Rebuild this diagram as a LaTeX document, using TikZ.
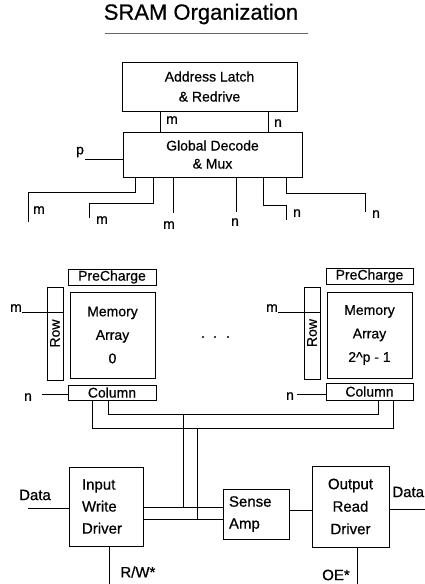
\documentclass[tikz,border=0pt]{standalone}
\usepackage{fontspec}
\setmainfont{Liberation Sans}[FakeBold=0.6]
\begin{document}
\begin{tikzpicture}[x=1pt, y=-1pt, line width=0.8pt,
    blk/.style={draw, line width=1pt, inner sep=0pt, align=center,
                font=\fontsize{14}{20}\selectfont},
    drv/.style={draw, line width=1pt, inner sep=0pt,
                font=\fontsize{15}{22}\selectfont},
    lbl/.style={inner sep=0pt, font=\fontsize{14}{16}\selectfont},
    dlbl/.style={inner sep=0pt, font=\fontsize{15}{17}\selectfont}]

  \useasboundingbox (0,0) rectangle (425,584);

  % --- Titel ---
  \node[inner sep=0pt, font=\fontsize{22}{26}\selectfont] (title) at (201,14) {SRAM Organization};
  \draw[black!60, line width=0.5pt] (105,33) -- (308,33);

  % --- Adresse + globale Dekodierung ---
  \node[blk, minimum width=175, minimum height=49] (addr) at (209.5,86.5)
      {Address Latch\\\& Redrive};
  \node[blk, minimum width=179, minimum height=45, font=\fontsize{14}{18}\selectfont] (gdec) at (212.5,154.5)
      {Global Decode\\\& Mux};
  \draw (addr.south -| 160,0) -- (gdec.north -| 160,0);
  \draw (addr.south -| 268,0) -- (gdec.north -| 268,0);
  \node[lbl] (am) at (172,120) {m};
  \node[lbl] (an) at (278,123) {n};

  \coordinate (pin) at (85,159);
  \node[lbl] (p) at (80,152) {p};
  \draw (pin) -- (pin -| gdec.west);

  % --- Ausgaenge der Dekodierung ---
  \draw (gdec.south -| 135,0) -- (135,192) -| (28,222);
  \draw (gdec.south -| 153,0) -- (153,203) -| (89,218);
  \draw (gdec.south -| 173,0) -- (173,213);
  \draw (gdec.south -| 236,0) -- (236,212);
  \draw (gdec.south -| 263,0) -- (263,205) -| (286,220);
  \draw (gdec.south -| 286,0) -- (286,193) -| (365,212);
  \node[lbl] (om1) at (39,210) {m};
  \node[lbl] (om2) at (102,220) {m};
  \node[lbl] (om3) at (169,225) {m};
  \node[lbl] (on1) at (235,222) {n};
  \node[lbl] (on2) at (297,213) {n};
  \node[lbl] (on3) at (376,214) {n};

  % --- Speicherfeld 0 ---
  \node[blk, minimum width=88, minimum height=16] (pc0) at (112,277) {PreCharge};
  \node[blk, rotate=90, minimum width=93, minimum height=16] (row0) at (55,333.5) {Row};
  \node[blk, minimum width=85, minimum height=86, font=\fontsize{14}{23.5}\selectfont] (mem0) at (112.5,335)
      {Memory\\Array\\0};
  \node[blk, minimum width=88, minimum height=15] (col0) at (112,392.5) {Column};
  \coordinate (m0) at (22,312);
  \coordinate (n0) at (42,394);
  \draw (m0) -- (m0 -| row0.south);
  \draw (n0) -- (n0 -| col0.west);
  \node[lbl] (m0l) at (16,308) {m};
  \node[lbl] (n0l) at (28,397) {n};

  % --- Speicherfeld 2^p-1 ---
  \node[blk, minimum width=87, minimum height=16] (pc1) at (369.5,276) {PreCharge};
  \node[blk, rotate=90, minimum width=92, minimum height=16] (row1) at (312,333) {Row};
  \node[blk, minimum width=85, minimum height=86, font=\fontsize{14}{23.5}\selectfont] (mem1) at (369.5,335)
      {Memory\\Array\\2\^{}p - 1};
  \node[blk, minimum width=87, minimum height=17] (col1) at (369.5,391.5) {Column};
  \coordinate (m1) at (278,312);
  \coordinate (n1) at (297,394);
  \draw (m1) -- (m1 -| row1.south);
  \draw (n1) -- (n1 -| col1.west);
  \node[lbl] (m1l) at (272,308) {m};
  \node[lbl] (n1l) at (290,396) {n};

  \foreach \x in {203,215,228}
     \fill (\x,337) circle (1.1);

  % --- Spaltenbus ---
  \draw (col0.south -| 108,0) -- (108,414) -- (378,414) -- (col1.south -| 378,0);
  \draw (col0.south -| 92,0) -- (92,428) -- (393,428) -- (col1.south -| 393,0);

  % --- Treiber und Leseverstaerker ---
  \node[drv, align=left, text width=48, inner xsep=13, minimum height=79] (iwd) at (106,506.5)
      {Input\\Write\\Driver};
  \node[drv, align=left, text width=54, inner xsep=6, minimum height=50] (sa) at (256,514)
      {Sense\\Amp};
  \node[drv, align=center, minimum width=77, minimum height=81, font=\fontsize{15}{22.5}\selectfont] (ord) at (350.5,506.5)
      {Output\\Read\\Driver};

  \draw (183,414) -- (183,507);
  \draw (197,428) -- (197,519);
  \draw (iwd.east |- 0,507) -- (sa.west |- 0,507);
  \draw (iwd.east |- 0,519) -- (sa.west |- 0,519);
  \draw (sa.east |- 0,510) -- (ord.west |- 0,510);

  \coordinate (din) at (28,508);
  \coordinate (dout) at (425,509);
  \draw (din) -- (din -| iwd.west);
  \draw (ord.east |- dout) -- (dout);
  \node[dlbl] (dinl) at (35,495) {Data};
  \node[dlbl, anchor=east] (doutl) at (424.5,492) {Data};

  \coordinate (rw) at (109,584);
  \coordinate (oe) at (357,584);
  \draw (iwd.south -| rw) -- (rw);
  \draw (ord.south -| oe) -- (oe);
  \node[dlbl, anchor=west] (rwl) at (120,572) {R/W*};
  \node[dlbl] (oel) at (336,575) {OE*};

\end{tikzpicture}
\end{document}
